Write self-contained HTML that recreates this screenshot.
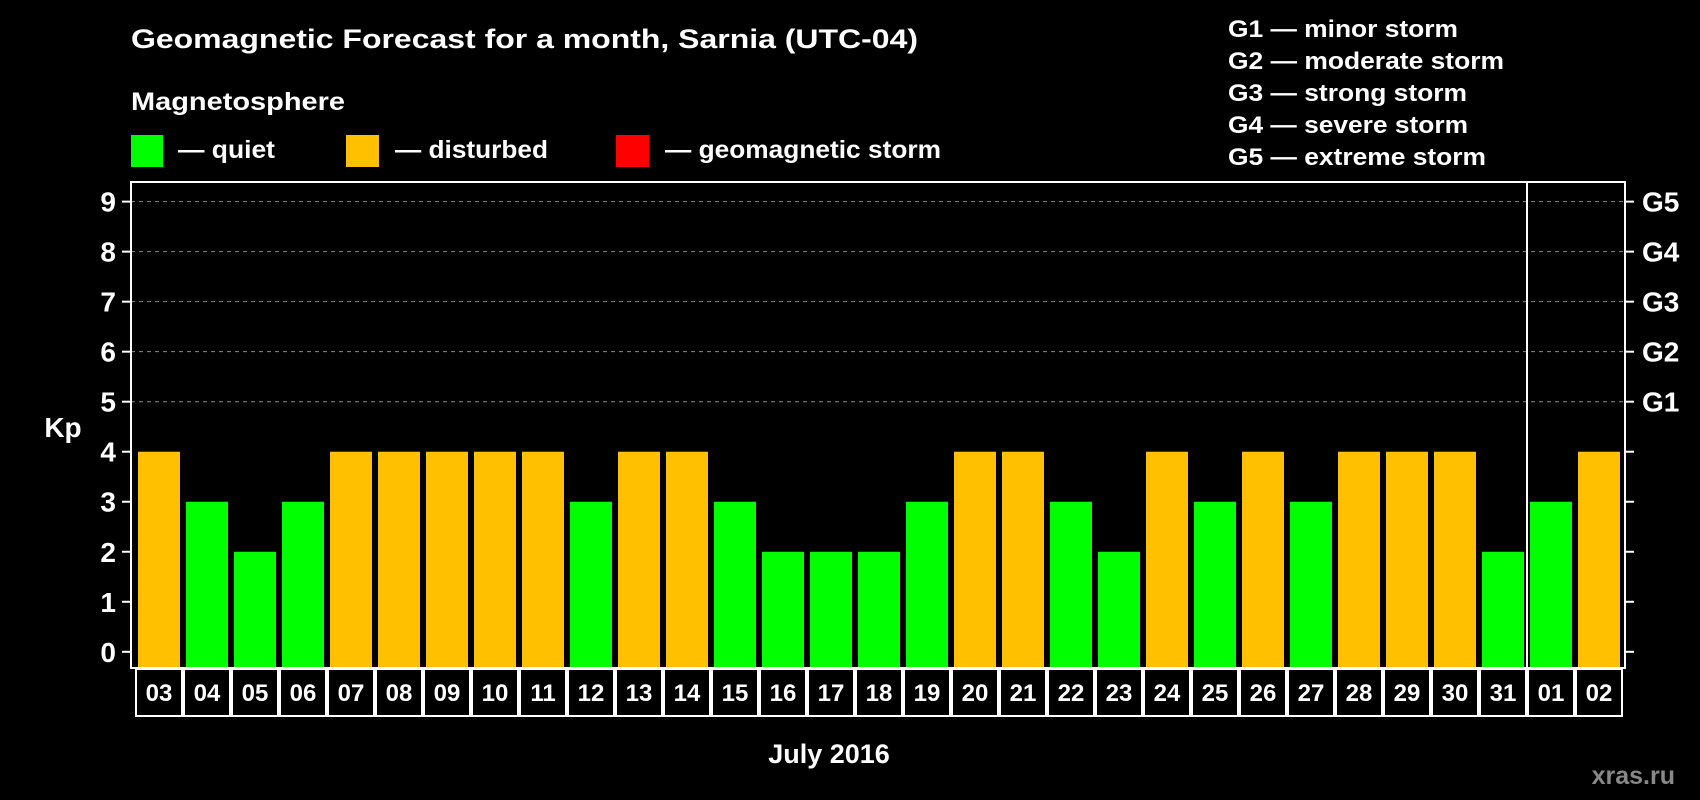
<!DOCTYPE html>
<html><head><meta charset="utf-8"><style>
html,body{margin:0;padding:0;background:#000;}
svg{display:block;font-family:"Liberation Sans",Arial,sans-serif;font-weight:bold;}
</style></head><body>
<svg id="chart" width="1700" height="800" viewBox="0 0 1700 800">
<rect x="0" y="0" width="1700" height="800" fill="#000"/>
<text x="131" y="48" font-size="27" fill="#fff" textLength="787" lengthAdjust="spacingAndGlyphs">Geomagnetic Forecast for a month, Sarnia (UTC-04)</text>
<text x="131" y="110" font-size="25" fill="#fff" textLength="214" lengthAdjust="spacingAndGlyphs">Magnetosphere</text>
<g>
<rect x="131" y="135" width="32" height="32" fill="#00ff00"/>
<text x="178" y="158" font-size="25" fill="#fff" textLength="97" lengthAdjust="spacingAndGlyphs">— quiet</text></g>
<g>
<rect x="346" y="135" width="33" height="32" fill="#ffc000"/>
<text x="395" y="158" font-size="25" fill="#fff" textLength="153" lengthAdjust="spacingAndGlyphs">— disturbed</text></g>
<g>
<rect x="616" y="135" width="33" height="32" fill="#ff0000"/>
<text x="665" y="158" font-size="25" fill="#fff" textLength="276" lengthAdjust="spacingAndGlyphs">— geomagnetic storm</text></g>
<g font-size="24" fill="#fff">
<text x="1228" y="37" textLength="230" lengthAdjust="spacingAndGlyphs">G1 — minor storm</text>
<text x="1228" y="69" textLength="276" lengthAdjust="spacingAndGlyphs">G2 — moderate storm</text>
<text x="1228" y="101" textLength="239" lengthAdjust="spacingAndGlyphs">G3 — strong storm</text>
<text x="1228" y="133" textLength="240" lengthAdjust="spacingAndGlyphs">G4 — severe storm</text>
<text x="1228" y="165" textLength="258" lengthAdjust="spacingAndGlyphs">G5 — extreme storm</text>
</g>
<text x="63" y="437" font-size="28" fill="#fff" text-anchor="middle">Kp</text>
<text x="829" y="763" font-size="27" fill="#fff" text-anchor="middle">July 2016</text>
<text x="1675" y="784" font-size="25" fill="#888" text-anchor="end">xras.ru</text>
<g id="plot"></g>
</svg>
<script>
const days = ["03","04","05","06","07","08","09","10","11","12","13","14","15","16","17","18","19","20","21","22","23","24","25","26","27","28","29","30","31","01","02"];
const kpValues = [4,3,2,3,4,4,4,4,4,3,4,4,3,2,2,2,3,4,4,3,2,4,3,4,3,4,4,4,2,3,4];
const yTicks = [0,1,2,3,4,5,6,7,8,9];
const gLabels = ["G1","G2","G3","G4","G5"];
const gLevels = [5,6,7,8,9];
const monthBreakIndex = 29;

const NS = "http://www.w3.org/2000/svg";
const plot = document.getElementById("plot");
const L = 131, R = 1625, T = 182, B = 668, band = 48, x0 = 135, barW = 42;
const y = v => 651.8 - v * 50.02;
const x = i => x0 + i * band;
function mk(tag, attrs, parent) {
  const e = document.createElementNS(NS, tag);
  for (const k in attrs) e.setAttribute(k, attrs[k]);
  (parent || plot).appendChild(e);
  return e;
}
// grid
gLevels.forEach((v, i) => {
  const g = mk("line", {x1: L, x2: R, y1: y(v), y2: y(v), stroke: "#888", "stroke-width": 1, "stroke-dasharray": "4,4"});
  
  
});
// bars
kpValues.forEach((v, i) => {
  const b = mk("rect", {x: x(i) + 3, y: y(v), width: barW, height: B - 1 - y(v), fill: v >= 5 ? "#ff0000" : (v >= 4 ? "#ffc000" : "#00ff00")});
  
  
});
// frame
const fr = mk("rect", {x: L, y: T, width: R - L, height: B - T, fill: "none", stroke: "#fff", "stroke-width": 2});


const dv = mk("line", {x1: x(monthBreakIndex), x2: x(monthBreakIndex), y1: T, y2: B, stroke: "#fff", "stroke-width": 2});


// y ticks
yTicks.forEach(v => {
  const t1 = mk("line", {x1: 122, x2: L, y1: y(v), y2: y(v), stroke: "#fff", "stroke-width": 2});
  
  
  const t2 = mk("line", {x1: R, x2: 1634, y1: y(v), y2: y(v), stroke: "#fff", "stroke-width": 2});
  
  
  const lb = mk("text", {x: 116, y: y(v) + 10, "font-size": 28, fill: "#fff", "text-anchor": "end"});
  lb.textContent = v;
  
  
});
gLabels.forEach((g, i) => {
  const lb = mk("text", {x: 1642, y: y(gLevels[i]) + 10, "font-size": 28, fill: "#fff"});
  lb.textContent = g;
  
  
});
// date boxes
days.forEach((d, i) => {
  const c = mk("rect", {x: x(i) + 1, y: 669, width: band - 2, height: 47, fill: "#000", stroke: "#fff", "stroke-width": 2});
  
  
  const t = mk("text", {x: x(i) + band / 2, y: 701, "font-size": 24, fill: "#fff", "text-anchor": "middle"});
  t.textContent = d;
  
  
});
</script>
</body></html>
